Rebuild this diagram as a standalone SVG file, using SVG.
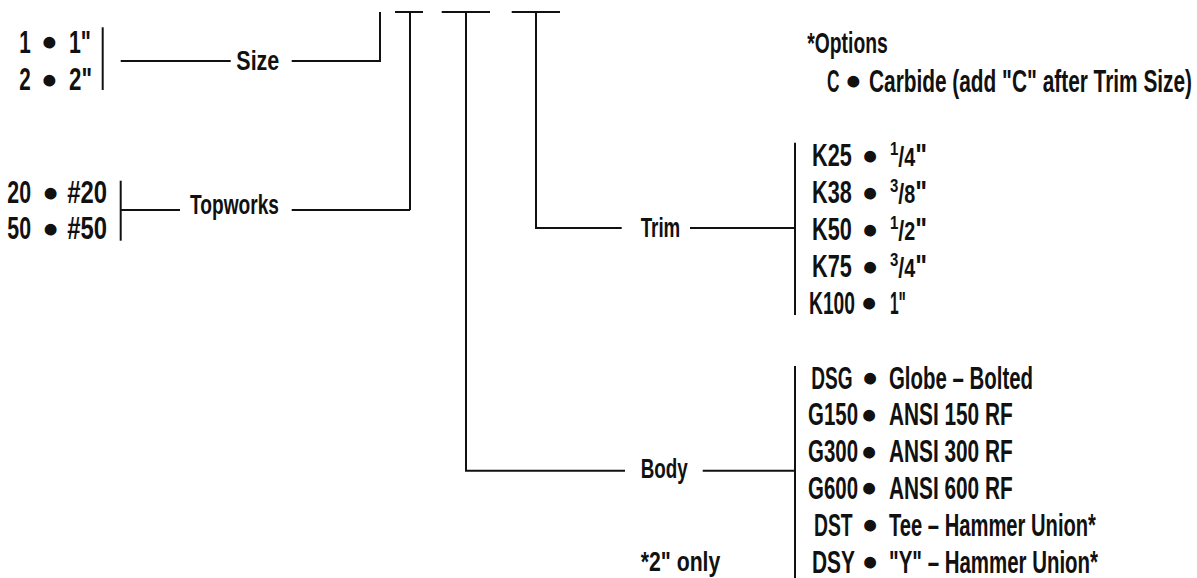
<svg xmlns="http://www.w3.org/2000/svg" width="1197" height="578" viewBox="0 0 1197 578">
<style>
.t{font-family:"Liberation Sans",Arial,sans-serif;font-weight:bold;fill:#111}
.L{font-size:28px}
.I{font-size:31.5px}
.b{font-family:"Liberation Sans",Arial,sans-serif;font-size:32px;fill:#111;stroke:#111;stroke-width:3.2;text-anchor:middle}
.c{fill:none;stroke:#111;stroke-width:2;stroke-linecap:butt}
</style>
<rect width="1197" height="578" fill="#fff"/>
<g id="connectors" class="c">
  <path d="M102.7 27.3V90"/>
  <path d="M120.7 61H230.7"/>
  <path d="M291.7 61H380V12"/>
  <path d="M120.7 180.7V240.7"/>
  <path d="M120.7 210H180"/>
  <path d="M291.7 210H410"/>
  <path d="M410 12V210"/>
  <path d="M466 12V470.7H625"/>
  <path d="M536 12V228H621.7"/>
  <path d="M690 228H795"/>
  <path d="M795 142.7V315"/>
  <path d="M702.7 470.7H795"/>
  <path d="M795 366V578"/>
</g>
<g id="code-slots">
  <path class="c" d="M395 12H423M441.7 12H490M511.7 12H560"/>
</g>
<g id="size-options">
  <text class="t I" transform="matrix(0.66 0 0 1 25 52.7)" text-anchor="middle" textLength="17.4" lengthAdjust="spacingAndGlyphs">1</text>
  <text class="b" x="49.3" y="53.2">•</text>
  <text class="t I" transform="matrix(0.66 0 0 1 69 52.7)" textLength="33.3" lengthAdjust="spacingAndGlyphs">1"</text>
  <text class="t I" transform="matrix(0.66 0 0 1 25 90)" text-anchor="middle" textLength="17.4" lengthAdjust="spacingAndGlyphs">2</text>
  <text class="b" x="49.3" y="90.5">•</text>
  <text class="t I" transform="matrix(0.66 0 0 1 69 90)" textLength="34.8" lengthAdjust="spacingAndGlyphs">2"</text>
</g>
<g id="size-label">
  <text class="t L" transform="matrix(0.66 0 0 1 236.3 70)" textLength="65.2" lengthAdjust="spacingAndGlyphs">Size</text>
</g>
<g id="topworks-options">
  <text class="t I" transform="matrix(0.66 0 0 1 7.3 203.3)" textLength="35.9" lengthAdjust="spacingAndGlyphs">20</text>
  <text class="b" x="50.7" y="203.8">•</text>
  <text class="t I" transform="matrix(0.66 0 0 1 67.3 203.3)" textLength="60.2" lengthAdjust="spacingAndGlyphs">#20</text>
  <text class="t I" transform="matrix(0.66 0 0 1 7.3 239.3)" textLength="35.9" lengthAdjust="spacingAndGlyphs">50</text>
  <text class="b" x="50.7" y="239.8">•</text>
  <text class="t I" transform="matrix(0.66 0 0 1 67.3 239.3)" textLength="60.2" lengthAdjust="spacingAndGlyphs">#50</text>
</g>
<g id="topworks-label">
  <text class="t L" transform="matrix(0.66 0 0 1 190 214)" textLength="134.8" lengthAdjust="spacingAndGlyphs">Topworks</text>
</g>
<g id="options-note">
  <text class="t" font-size="29" transform="matrix(0.66 0 0 1 807.3 53.3)" textLength="121.8" lengthAdjust="spacingAndGlyphs">*Options</text>
  <text class="t I" transform="matrix(0.66 0 0 1 826.9 91.7)" textLength="18.9" lengthAdjust="spacingAndGlyphs">C</text>
  <text class="b" x="853.3" y="92.2">•</text>
  <text class="t I" transform="matrix(0.66 0 0 1 869 91.7)" textLength="489.4" lengthAdjust="spacingAndGlyphs">Carbide (add "C" after Trim Size)</text>
</g>
<g id="trim-label">
  <text class="t L" transform="matrix(0.66 0 0 1 640.7 236.7)" textLength="60" lengthAdjust="spacingAndGlyphs">Trim</text>
</g>
<g id="trim-options">
  <text class="t I" transform="matrix(0.66 0 0 1 812 166)" textLength="60.2" lengthAdjust="spacingAndGlyphs">K25</text>
  <text class="b" x="870" y="166.5">•</text>
  <text class="t I" transform="matrix(0.66 0 0 1 890 166)" textLength="56.1" lengthAdjust="spacingAndGlyphs"><tspan font-size="19" dy="-11">1</tspan><tspan dy="11" font-size="27">/</tspan><tspan font-size="25">4</tspan><tspan>"</tspan></text>
  <text class="t I" transform="matrix(0.66 0 0 1 812 203)" textLength="60.2" lengthAdjust="spacingAndGlyphs">K38</text>
  <text class="b" x="870" y="203.5">•</text>
  <text class="t I" transform="matrix(0.66 0 0 1 890 203)" textLength="56.1" lengthAdjust="spacingAndGlyphs"><tspan font-size="19" dy="-11">3</tspan><tspan dy="11" font-size="27">/</tspan><tspan font-size="25">8</tspan><tspan>"</tspan></text>
  <text class="t I" transform="matrix(0.66 0 0 1 812 240)" textLength="60.2" lengthAdjust="spacingAndGlyphs">K50</text>
  <text class="b" x="870" y="240.5">•</text>
  <text class="t I" transform="matrix(0.66 0 0 1 890 240)" textLength="56.1" lengthAdjust="spacingAndGlyphs"><tspan font-size="19" dy="-11">1</tspan><tspan dy="11" font-size="27">/</tspan><tspan font-size="25">2</tspan><tspan>"</tspan></text>
  <text class="t I" transform="matrix(0.66 0 0 1 812 277)" textLength="60.2" lengthAdjust="spacingAndGlyphs">K75</text>
  <text class="b" x="870" y="277.5">•</text>
  <text class="t I" transform="matrix(0.66 0 0 1 890 277)" textLength="56.1" lengthAdjust="spacingAndGlyphs"><tspan font-size="19" dy="-11">3</tspan><tspan dy="11" font-size="27">/</tspan><tspan font-size="25">4</tspan><tspan>"</tspan></text>
  <text class="t I" transform="matrix(0.66 0 0 1 809 313.5)" textLength="69.7" lengthAdjust="spacingAndGlyphs">K100</text>
  <text class="b" x="869" y="314">•</text>
  <text class="t I" transform="matrix(0.66 0 0 1 890 313.5)" textLength="24.2" lengthAdjust="spacingAndGlyphs">1"</text>
</g>
<g id="body-label">
  <text class="t L" transform="matrix(0.66 0 0 1 640.7 477.5)" textLength="71.2" lengthAdjust="spacingAndGlyphs">Body</text>
</g>
<g id="only-note">
  <text class="t L" transform="matrix(0.66 0 0 1 640.7 570.5)" textLength="120.6" lengthAdjust="spacingAndGlyphs">*2" only</text>
</g>
<g id="body-options">
  <text class="t I" transform="matrix(0.66 0 0 1 811.3 388.5)" textLength="62.7" lengthAdjust="spacingAndGlyphs">DSG</text>
  <text class="b" x="870" y="389">•</text>
  <text class="t I" transform="matrix(0.66 0 0 1 889 388.5)" textLength="218.2" lengthAdjust="spacingAndGlyphs">Globe – Bolted</text>
  <text class="t I" transform="matrix(0.66 0 0 1 808 425.3)" textLength="75.8" lengthAdjust="spacingAndGlyphs">G150</text>
  <text class="b" x="869" y="425.8">•</text>
  <text class="t I" transform="matrix(0.66 0 0 1 889 425.3)" textLength="187.4" lengthAdjust="spacingAndGlyphs">ANSI 150 RF</text>
  <text class="t I" transform="matrix(0.66 0 0 1 808 462.1)" textLength="75.8" lengthAdjust="spacingAndGlyphs">G300</text>
  <text class="b" x="869" y="462.6">•</text>
  <text class="t I" transform="matrix(0.66 0 0 1 889 462.1)" textLength="187.4" lengthAdjust="spacingAndGlyphs">ANSI 300 RF</text>
  <text class="t I" transform="matrix(0.66 0 0 1 808 498.9)" textLength="75.8" lengthAdjust="spacingAndGlyphs">G600</text>
  <text class="b" x="869" y="499.4">•</text>
  <text class="t I" transform="matrix(0.66 0 0 1 889 498.9)" textLength="187.4" lengthAdjust="spacingAndGlyphs">ANSI 600 RF</text>
  <text class="t I" transform="matrix(0.66 0 0 1 814 535.7)" textLength="58.6" lengthAdjust="spacingAndGlyphs">DST</text>
  <text class="b" x="870" y="536.2">•</text>
  <text class="t I" transform="matrix(0.66 0 0 1 889 535.7)" textLength="313.6" lengthAdjust="spacingAndGlyphs">Tee – Hammer Union*</text>
  <text class="t I" transform="matrix(0.66 0 0 1 812 572.5)" textLength="65.2" lengthAdjust="spacingAndGlyphs">DSY</text>
  <text class="b" x="870" y="573">•</text>
  <text class="t I" transform="matrix(0.66 0 0 1 889 572.5)" textLength="316.7" lengthAdjust="spacingAndGlyphs">"Y" – Hammer Union*</text>
</g>
</svg>
